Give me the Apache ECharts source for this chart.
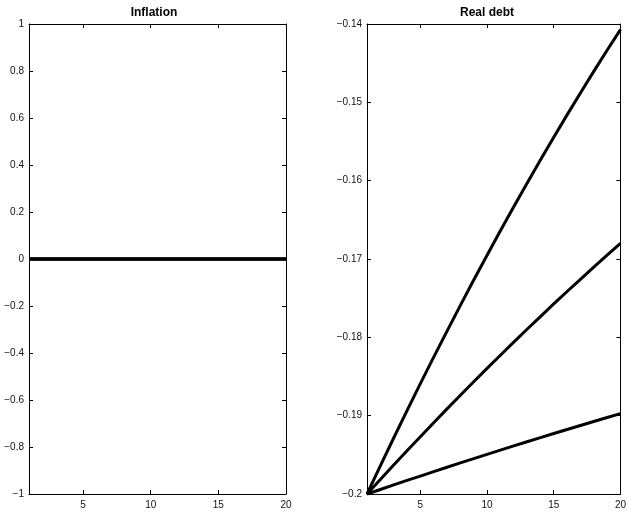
<!DOCTYPE html>
<html>
<head>
<meta charset="utf-8">
<title>Inflation and real debt responses</title>
<script src="https://cdn.jsdelivr.net/npm/echarts@6/dist/echarts.min.js"></script>
<style>
  html, body { margin: 0; padding: 0; background: #fff; }
  #chart { width: 629px; height: 514px; }
</style>
</head>
<body>
<div id="chart"></div>
<script>
// Horizon (periods 1..20)
const periods = [1, 2, 3, 4, 5, 6, 7, 8, 9, 10, 11, 12, 13, 14, 15, 16, 17, 18, 19, 20];
const xTickValues = [5, 10, 15, 20];

// Inflation response: identical for all three cases
const inflationA = [0, 0, 0, 0, 0, 0, 0, 0, 0, 0, 0, 0, 0, 0, 0, 0, 0, 0, 0, 0];
const inflationB = [0, 0, 0, 0, 0, 0, 0, 0, 0, 0, 0, 0, 0, 0, 0, 0, 0, 0, 0, 0];
const inflationC = [0, 0, 0, 0, 0, 0, 0, 0, 0, 0, 0, 0, 0, 0, 0, 0, 0, 0, 0, 0];

// Real debt response for the three cases
const realDebtHigh = [-0.20000, -0.19640, -0.19285, -0.18936, -0.18592, -0.18253, -0.17920,
  -0.17592, -0.17269, -0.16952, -0.16640, -0.16333, -0.16032, -0.15736, -0.15445, -0.15160,
  -0.14880, -0.14605, -0.14336, -0.14072];
const realDebtMid = [-0.20000, -0.19814, -0.19630, -0.19448, -0.19268, -0.19090, -0.18913,
  -0.18739, -0.18567, -0.18396, -0.18228, -0.18062, -0.17897, -0.17735, -0.17574, -0.17415,
  -0.17259, -0.17104, -0.16951, -0.16800];
const realDebtLow = [-0.20000, -0.19942, -0.19884, -0.19827, -0.19771, -0.19714, -0.19659,
  -0.19603, -0.19548, -0.19494, -0.19440, -0.19386, -0.19333, -0.19281, -0.19228, -0.19177,
  -0.19125, -0.19074, -0.19024, -0.18974];

const FONT = '"Liberation Sans", Arial, Helvetica, sans-serif';
const INK = '#000';

function fmtNum(v, digits) {
  const s = (+v).toFixed(digits).replace(/\.?0+$/, '');
  const out = (s === '-0' ? '0' : s);
  return out.replace('-', '\u2212');
}

function pairs(xs, ys) { return xs.map((x, i) => [x, ys[i]]); }

function xAxes(gridIndex) {
  const base = {
    type: 'value', gridIndex, min: 1, max: 20,
    axisLine: { show: true, onZero: false, lineStyle: { color: INK, width: 1 } },
    splitLine: { show: false },
    axisTick: { show: true, inside: true, length: 4, customValues: xTickValues,
                lineStyle: { color: INK, width: 1 } }
  };
  return [
    Object.assign({}, base, {
      position: 'bottom',
      axisLabel: { show: true, customValues: xTickValues, color: '#111', fontSize: 10,
                   fontFamily: FONT, margin: 6 }
    }),
    Object.assign({}, base, { position: 'top', axisLabel: { show: false } })
  ];
}

function yAxes(gridIndex, min, max, interval, digits) {
  const base = {
    type: 'value', gridIndex, min, max, interval,
    axisLine: { show: true, onZero: false, lineStyle: { color: INK, width: 1 } },
    splitLine: { show: false },
    axisTick: { show: true, inside: true, length: 4, lineStyle: { color: INK, width: 1 } }
  };
  return [
    Object.assign({}, base, {
      position: 'left',
      axisLabel: { show: true, color: '#111', fontSize: 10, fontFamily: FONT, margin: 5,
                   formatter: v => fmtNum(v, digits) }
    }),
    Object.assign({}, base, { position: 'right', axisLabel: { show: false } })
  ];
}

function line(name, xi, yi, data) {
  return {
    name, type: 'line', xAxisIndex: xi, yAxisIndex: yi,
    data: pairs(periods, data), showSymbol: false, symbol: 'none',
    lineStyle: { color: INK, width: 3, join: 'round', cap: 'butt' },
    clip: false, animation: false
  };
}

const chart = echarts.init(document.getElementById('chart'), null, { renderer: 'canvas' });
chart.setOption({
  backgroundColor: '#fff',
  animation: false,
  title: [
    { text: 'Inflation', left: 154, top: 7, padding: 0, textAlign: 'center',
      textStyle: { fontFamily: FONT, fontSize: 12, fontWeight: 'bold', color: INK } },
    { text: 'Real debt', left: 487, top: 7, padding: 0, textAlign: 'center',
      textStyle: { fontFamily: FONT, fontSize: 12, fontWeight: 'bold', color: INK } }
  ],
  grid: [
    { left: 29, top: 24, width: 257, height: 470 },
    { left: 367, top: 24, width: 256, height: 470 }
  ],
  xAxis: [...xAxes(0), ...xAxes(1)],
  yAxis: [...yAxes(0, -1, 1, 0.2, 1), ...yAxes(1, -0.2, -0.14, 0.01, 2)],
  series: [
    line('Inflation A', 0, 0, inflationA),
    line('Inflation B', 0, 0, inflationB),
    line('Inflation C', 0, 0, inflationC),
    line('Real debt high', 2, 2, realDebtHigh),
    line('Real debt mid', 2, 2, realDebtMid),
    line('Real debt low', 2, 2, realDebtLow)
  ]
});
</script>
</body>
</html>
